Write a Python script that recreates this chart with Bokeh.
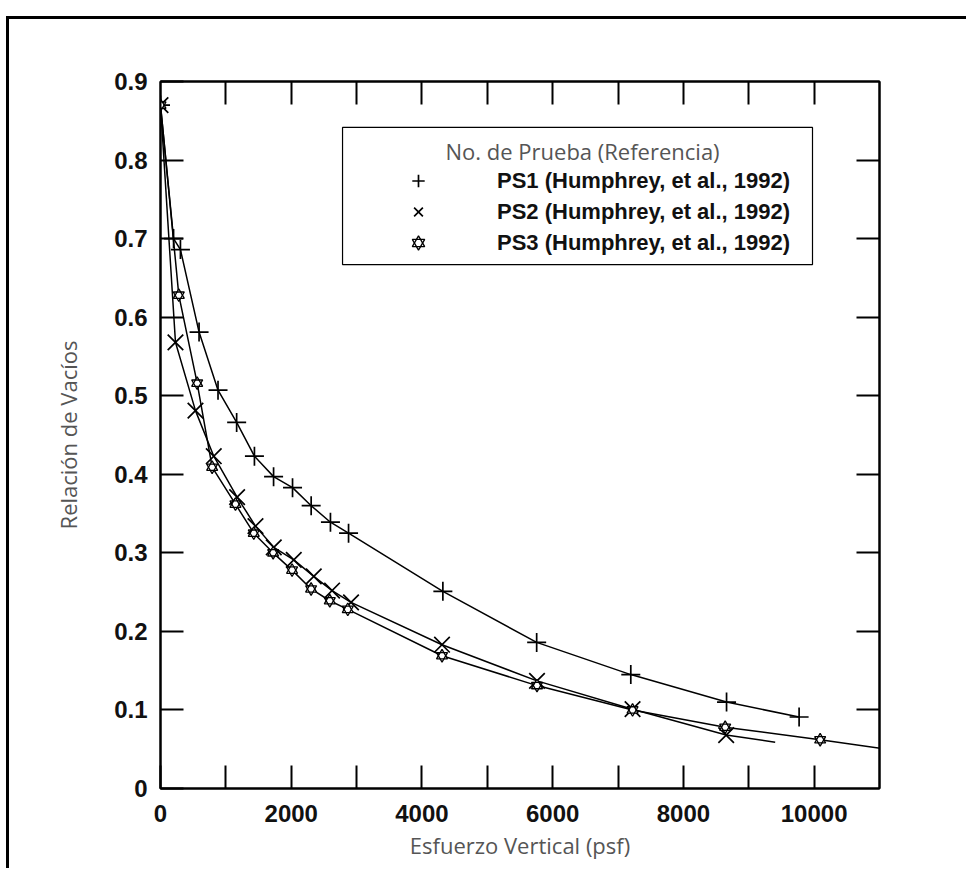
import math
from bokeh.plotting import figure
from bokeh.models import FixedTicker, LinearAxis, Legend, LegendItem, Label, Range1d, BoxAnnotation
from bokeh.embed import file_html
from bokeh.resources import INLINE

# ---- data ----
ps1_x = [0, 200, 305, 590, 880, 1165, 1437, 1730, 2020, 2305, 2600, 2877, 4320, 5755, 7195, 8660, 9770]
ps1_y = [0.87, 0.700, 0.686, 0.581, 0.507, 0.466, 0.423, 0.397, 0.383, 0.360, 0.339, 0.325, 0.251, 0.186, 0.145, 0.110, 0.091]

ps2_x = [0, 229, 535, 815, 1172, 1453, 1733, 2039, 2345, 2625, 2915, 4307, 5760, 7222, 8654]
ps2_y = [0.87, 0.568, 0.481, 0.423, 0.371, 0.334, 0.307, 0.291, 0.270, 0.252, 0.237, 0.183, 0.137, 0.101, 0.068]
ps2_tail_x = [9404]
ps2_tail_y = [0.059]

ps3_x = [0, 280, 561, 790, 1147, 1427, 1723, 2013, 2304, 2590, 2865, 4307, 5760, 7222, 8639, 10092]
ps3_y = [0.87, 0.628, 0.516, 0.409, 0.362, 0.325, 0.300, 0.278, 0.254, 0.239, 0.228, 0.169, 0.131, 0.100, 0.078, 0.062]
ps3_tail_x = [11200]
ps3_tail_y = [0.049]

series_labels = ["PS1 (Humphrey, et al., 1992)",
                 "PS2 (Humphrey, et al., 1992)",
                 "PS3 (Humphrey, et al., 1992)"]
legend_title = "No. de Prueba (Referencia)"
x_label = "Esfuerzo Vertical (psf)"
y_label = "Relación de Vacíos"

x_major_ticks = [0, 2000, 4000, 6000, 8000, 10000]
x_minor_ticks = [1000, 3000, 5000, 7000, 9000]
x_all_ticks = [1000, 2000, 3000, 4000, 5000, 6000, 7000, 8000, 9000, 10000]
y_ticks = [0, 0.1, 0.2, 0.3, 0.4, 0.5, 0.6, 0.7, 0.8, 0.9]

# legend frame (in axis units) and title anchor
legend_box = dict(left=2785, right=9975, bottom=0.667, top=0.8415)
legend_title_at = (6457, 0.812)

# ---- figure ----
TICK_FONT = "Liberation Sans"
LABEL_FONT = "Open Sans"
GRAY = "#555555"
W, H = 960, 852

p = figure(width=W, height=H,
           x_range=Range1d(0, 11000), y_range=Range1d(0, 0.9),
           x_axis_type=None, y_axis_type=None,
           output_backend="svg", toolbar_location=None,
           min_border_left=151, min_border_right=90,
           min_border_top=62, min_border_bottom=83)
p.margin = (16, 0, 0, 6)
p.styles = {"border-top": "3px solid black", "border-left": "3px solid black"}
p.background_fill_color = "white"
p.border_fill_color = "white"
p.outline_line_color = "black"
p.outline_line_width = 2


def style_axis(ax):
    ax.axis_line_color = "black"
    ax.axis_line_width = 2
    ax.major_tick_in = 23
    ax.major_tick_out = 0
    ax.minor_tick_in = 23
    ax.minor_tick_out = 0
    ax.major_tick_line_color = "black"
    ax.minor_tick_line_color = "black"
    ax.major_tick_line_width = 2
    ax.minor_tick_line_width = 2
    ax.major_label_text_font = TICK_FONT
    ax.major_label_text_font_style = "bold"
    ax.major_label_text_font_size = "24px"
    ax.major_label_text_color = "#111111"


def style_label(ax):
    ax.axis_label_text_font = LABEL_FONT
    ax.axis_label_text_font_style = "normal"
    ax.axis_label_text_font_size = "22px"
    ax.axis_label_text_color = GRAY


bottom = LinearAxis(ticker=FixedTicker(ticks=x_major_ticks, minor_ticks=x_minor_ticks),
                    axis_label=x_label)
style_axis(bottom)
style_label(bottom)
bottom.major_label_standoff = 16
bottom.axis_label_standoff = 5
p.add_layout(bottom, "below")

left = LinearAxis(ticker=FixedTicker(ticks=y_ticks, minor_ticks=[]), axis_label=y_label)
style_axis(left)
style_label(left)
left.major_label_standoff = 13
left.axis_label_standoff = 28
p.add_layout(left, "left")

top = LinearAxis(ticker=FixedTicker(ticks=[], minor_ticks=x_all_ticks))
style_axis(top)
p.add_layout(top, "above")

right = LinearAxis(ticker=FixedTicker(ticks=[], minor_ticks=y_ticks[1:-1]))
style_axis(right)
p.add_layout(right, "right")

# ---- curves ----
LW = 1.5
p.line(ps1_x, ps1_y, line_color="black", line_width=LW)
p.line(ps2_x + ps2_tail_x, ps2_y + ps2_tail_y, line_color="black", line_width=LW)
p.line(ps3_x + ps3_tail_x, ps3_y + ps3_tail_y, line_color="black", line_width=LW)

r1 = p.scatter(ps1_x, ps1_y, marker="cross", size=19, line_color="black", line_width=1.7)
r2 = p.scatter(ps2_x, ps2_y, marker="x", size=22, line_color="black", line_width=1.7)
r3a = p.scatter(ps3_x, ps3_y, marker="triangle", size=11, line_color="black",
                fill_color="white", line_width=1.3)
r3b = p.scatter(ps3_x, ps3_y, marker="inverted_triangle", size=11, line_color="black",
                fill_color=None, line_width=1.3)

# ---- legend: frame, title and entries ----
p.add_layout(BoxAnnotation(left=legend_box["left"], right=legend_box["right"],
                           bottom=legend_box["bottom"], top=legend_box["top"],
                           fill_color="white", fill_alpha=1.0,
                           line_color="black", line_width=1.2, line_alpha=1.0))
p.add_layout(Label(x=legend_title_at[0], y=legend_title_at[1], text=legend_title,
                   text_align="center", text_baseline="middle",
                   text_font=LABEL_FONT, text_font_size="22px", text_color=GRAY))

legend = Legend(items=[LegendItem(label=series_labels[0], renderers=[r1]),
                       LegendItem(label=series_labels[1], renderers=[r2]),
                       LegendItem(label=series_labels[2], renderers=[r3a, r3b])],
                location=(238, 530))
legend.margin = 0
legend.padding = 0
legend.spacing = 0
legend.glyph_width = 40
legend.glyph_height = 31
legend.label_height = 31
legend.label_standoff = 59
legend.label_text_font = TICK_FONT
legend.label_text_font_style = "bold"
legend.label_text_font_size = "22px"
legend.label_text_color = "#111111"
legend.label_text_baseline = "middle"
legend.border_line_alpha = 0
legend.background_fill_alpha = 0
p.add_layout(legend)

open("out.html", "w").write(file_html(p, INLINE))
